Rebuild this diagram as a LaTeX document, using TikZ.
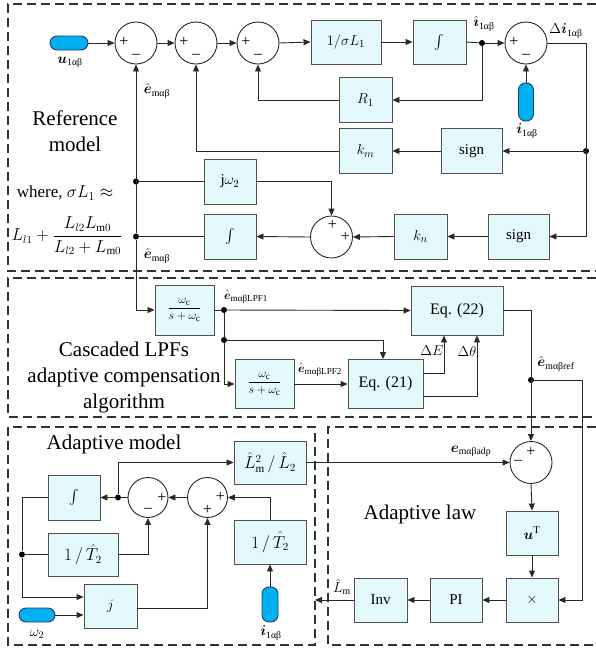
\documentclass[tikz,border=0pt]{standalone}
\usepackage{amsmath}
\usepackage{fontspec}
\setmainfont{Liberation Serif}
\usetikzlibrary{arrows.meta,calc}
\definecolor{boxf}{RGB}{228,249,251}
\definecolor{boxc}{RGB}{80,80,80}
\definecolor{linec}{RGB}{40,40,40}
\definecolor{pillf}{RGB}{0,176,240}
\definecolor{pillb}{RGB}{31,60,110}
\definecolor{dashc}{RGB}{50,50,50}
\tikzset{
 blk/.style={draw=boxc, fill=boxf, line width=0.9pt, inner sep=0pt, font=\fontsize{15}{17}\selectfont},
 sumc/.style={circle, draw=linec, line width=0.9pt, minimum size=42pt, inner sep=0pt},
 sums/.style={sumc, minimum size=40pt},
 pillh/.style={draw=pillb, fill=pillf, line width=0.9pt, rounded corners=7pt, minimum width=38pt, minimum height=14pt, inner sep=0pt},
 pillv/.style={draw=pillb, fill=pillf, line width=0.9pt, rounded corners=7pt, minimum width=15pt, minimum height=38pt, inner sep=0pt},
 conn/.style={draw=linec, line width=0.9pt},
 arr/.style={conn, -{Triangle[length=7pt,width=6pt]}},
 jdot/.style={circle, fill=black, inner sep=0pt, minimum size=6pt},
 region/.style={draw=dashc, line width=1.4pt, dash pattern=on 9pt off 5pt},
 big/.style={font=\fontsize{21}{26}\selectfont, align=center, inner sep=0pt},
 lbl/.style={font=\fontsize{14}{16}\selectfont, inner sep=1pt},
 sgn/.style={font=\fontsize{16}{16}\selectfont, inner sep=0pt}
}
\begin{document}
\begin{tikzpicture}[x=1pt,y=-1pt]
\useasboundingbox (0,0) rectangle (596,654);
% regions
\draw[region] (596,4) -- (8,4) -- (8,271) -- (596,271);
\draw[region] (596,278) -- (8,278) -- (8,417) -- (596,417);
\draw[region] (8,427) rectangle (315,645);
\draw[region] (596,427) -- (328,427) -- (328,645) -- (596,645);

% ---------------- Reference model ----------------
\node[pillh] (u1) at (69,43) {};
\node[lbl] (u1l) at (70,62) {$\boldsymbol{u}$\textsubscript{1αβ}};
\node[sumc] (s1) at (136,43) {};
\node[sumc] (s2) at (196,43) {};
\node[sumc] (s3) at (258,43) {};
\node[blk, minimum width=70pt, minimum height=44pt] (bL1) at (346,42) {$1/\sigma L_1$};
\node[blk, minimum width=53pt, minimum height=44pt] (bint1) at (439.5,42) {$\int$};
\node[jdot] (j1) at (482,43) {};
\node[lbl] (ihl) at (484,24) {$\hat{\boldsymbol{\imath}}$\textsubscript{1αβ}};
\node[sumc] (s4) at (526,43) {};
\node[lbl] (dil) at (566,31) {$\Delta\boldsymbol{i}$\textsubscript{1αβ}};
\node[pillv] (i1) at (526,102) {};
\node[lbl] (i1l) at (527,131) {$\boldsymbol{i}$\textsubscript{1αβ}};
\node[blk, minimum width=53pt, minimum height=45pt] (R1) at (365.5,100) {$R_1$};
\node[blk, minimum width=53pt, minimum height=45pt] (km) at (365.5,151) {$k_m$};
\node[blk, minimum width=61pt, minimum height=45pt] (sg1) at (471.5,151) {sign};
\coordinate (dR) at (586,151);
\node[jdot] at (dR) {};
\node[blk, minimum width=52pt, minimum height=45pt] (jw) at (230,181.5) {j$\omega_2$};
\node[sumc] (s5) at (331.5,237) {};
\node[blk, minimum width=52pt, minimum height=45pt] (bint2) at (230,236.5) {$\int$};
\node[blk, minimum width=53pt, minimum height=45pt] (kn) at (420.5,236.5) {$k_n$};
\node[blk, minimum width=61pt, minimum height=45pt] (sg2) at (518.5,236.5) {sign};
\node[jdot] (d1) at (136,181.5) {};
\node[jdot] (d2) at (136,236.5) {};
\node[lbl] (el1) at (157,91) {$\hat{\boldsymbol{e}}$\textsubscript{mαβ}};
\node[lbl] (el2) at (157,256) {$\hat{\boldsymbol{e}}$\textsubscript{mαβ}};
\node[big] (refl) at (75,131) {Reference\\model};
\node[inner sep=0pt, font=\fontsize{17}{19}\selectfont] (wh) at (65,193) {where, $\sigma L_1\approx$};
\node[inner sep=0pt, font=\fontsize{16}{18}\selectfont] (frl) at (67,236) {$L_{l1}+\dfrac{L_{l2}L_{\mathrm{m}0}}{L_{l2}+L_{\mathrm{m}0}}$};
% signs
\node[sgn] at ($(s1)+(-12,-1)$) {+};
\node[sgn] at ($(s1)+(0,13)$) {\textendash};
\node[sgn] at ($(s2)+(-12,-1)$) {+};
\node[sgn] at ($(s2)+(0,13)$) {\textendash};
\node[sgn] at ($(s3)+(-12,-1)$) {+};
\node[sgn] at ($(s3)+(0,13)$) {\textendash};
\node[sgn] at ($(s4)+(-12,-1)$) {+};
\node[sgn] at ($(s4)+(0,13)$) {\textendash};
\node[sgn] at ($(s5)+(1,-12)$) {+};
\node[sgn] at ($(s5)+(14,0)$) {+};
% connectors
\draw[arr] (u1.east) -- (s1.west);
\draw[arr] (s1.east) -- (s2.west);
\draw[arr] (s2.east) -- (s3.west);
\draw[arr] (s3.east) -- (bL1.west);
\draw[arr] (bL1.east) -- (bint1.west);
\draw[conn] (bint1.east) -- (j1);
\draw[arr] (j1) -- (s4.west);
\draw[arr] (j1) |- (R1.east);
\draw[arr] (R1.west) -| (s3.south);
\draw[arr] (km.west) -| (s2.south);
\draw[arr] (i1.north) -- (s4.south);
\draw[conn] (s4.east) -| (dR);
\draw[arr] (dR) -- (sg1.east);
\draw[arr] (sg1.west) -- (km.east);
\draw[arr] (dR) |- (sg2.east);
\draw[arr] (sg2.west) -- (kn.east);
\draw[arr] (kn.west) -- (s5.east);
\draw[arr] (s5.west) -- (bint2.east);
\draw[conn] (bint2.west) -- (d2);
\draw[arr] (d2) -- (s1.south);
\draw[conn] (d1) -- (jw.west);
\draw[arr] (jw.east) -| (s5.north);

% ---------------- Cascaded LPFs ----------------
\node[blk, minimum width=59pt, minimum height=50pt, font=\fontsize{13}{15}\selectfont] (lpf1) at (184.5,310) {$\displaystyle\frac{\omega_{\mathrm{c}}}{s+\omega_{\mathrm{c}}}$};
\node[blk, minimum width=59pt, minimum height=49pt, font=\fontsize{13}{15}\selectfont] (lpf2) at (264.5,384) {$\displaystyle\frac{\omega_{\mathrm{c}}}{s+\omega_{\mathrm{c}}}$};
\node[blk, minimum width=92pt, minimum height=49pt, font=\fontsize{16}{18}\selectfont] (eq22) at (457,310.5) {Eq. (22)};
\node[blk, minimum width=75pt, minimum height=49pt, font=\fontsize{16}{18}\selectfont] (eq21) at (385.5,384) {Eq. (21)};
\node[jdot] (p1) at (224,310) {};
\node[jdot] (p2) at (224,340) {};
\coordinate (p3) at (531,380);
\node[jdot] at (p3) {};
\coordinate (cR) at (582,380);
\node[lbl, font=\fontsize{13}{15}\selectfont] (lp1l) at (246,297) {$\hat{\boldsymbol{e}}$\textsubscript{mαβLPF1}};
\node[lbl, font=\fontsize{13}{15}\selectfont] (lp2l) at (320,370) {$\hat{\boldsymbol{e}}$\textsubscript{mαβLPF2}};
\node[lbl, font=\fontsize{15}{17}\selectfont] (dEl) at (432,351) {$\Delta E$};
\node[lbl, font=\fontsize{15}{17}\selectfont] (dTl) at (467,351) {$\Delta\theta$};
\node[lbl] (refl2) at (556,364) {$\hat{\boldsymbol{e}}$\textsubscript{mαβref}};
\node[big] (lpfl) at (124,377) {Cascaded LPFs\\adaptive compensation\\algorithm};
\draw[arr] (d2) |- (lpf1.west);
\draw[conn] (lpf1.east) -- (p1);
\draw[arr] (p1) -- (eq22.west);
\draw[conn] (p1) -- (p2);
\draw[arr] (p2) -| ([xshift=-2.5pt]eq21.north);
\draw[arr] (p2) |- (lpf2.west);
\draw[arr] (lpf2.east) -- (eq21.west);
\draw[arr] ([yshift=11pt]eq21.east) -| ([xshift=-13pt]eq22.south);
\draw[arr] ([yshift=-12pt]eq21.east) -| ([xshift=20pt]eq22.south);
\draw[conn] (eq22.east) -| (p3);

% ---------------- Adaptive law ----------------
\node[sumc] (s6) at (531,462.5) {};
\node[blk, minimum width=52pt, minimum height=44pt] (uT) at (532,533) {$\boldsymbol{u}^{\mathrm{T}}$};
\node[blk, minimum width=52pt, minimum height=44pt] (mul) at (532,600) {$\times$};
\node[blk, minimum width=52pt, minimum height=44pt] (PI) at (456,600) {PI};
\node[blk, minimum width=53pt, minimum height=44pt] (Inv) at (380.5,600) {Inv};
\coordinate (Lout) at (315,600);
\node[lbl] (Lml) at (342,587) {$\hat{L}$\textsubscript{m}};
\node[big] (all) at (420,514) {Adaptive law};
\node[sgn] at ($(s6)+(0,-11)$) {+};
\node[sgn] at ($(s6)+(-13,0)$) {\textendash};
\draw[arr] (p3) -- (s6.north);
\draw[conn] (p3) -- (cR);
\draw[arr] (cR) |- (mul.east);
\draw[arr] (s6.south) -- (uT.north);
\draw[arr] (uT.south) -- (mul.north);
\draw[arr] (mul.west) -- (PI.east);
\draw[arr] (PI.west) -- (Inv.east);
\draw[arr] (Inv.west) -- (Lout);

% ---------------- Adaptive model ----------------
\node[big] (aml) at (114,444) {Adaptive model};
\node[blk, minimum width=72pt, minimum height=43pt, font=\fontsize{16}{18}\selectfont] (Lm2) at (270,462.5) {$\hat{L}_{\mathrm{m}}^{2}\,/\,\hat{L}_{2}$};
\node[lbl] (adpl) at (471,451) {$\boldsymbol{e}$\textsubscript{mαβadp}};
\node[blk, minimum width=52pt, minimum height=45pt] (int3) at (74,497.5) {$\int$};
\node[sums] (s7) at (148,497.5) {};
\node[sums] (s8) at (207.5,497.5) {};
\node[blk, minimum width=72pt, minimum height=44pt, font=\fontsize{16}{18}\selectfont] (T2r) at (270,542) {$1\,/\,\hat{T}_2$};
\node[blk, minimum width=70pt, minimum height=43pt, font=\fontsize{16}{18}\selectfont] (T2l) at (83,554.5) {$1\,/\,\hat{T}_2$};
\node[blk, minimum width=53pt, minimum height=44pt] (jb) at (110.5,606) {$j$};
\node[pillv, minimum width=16pt, minimum height=35pt] (i1b) at (270,604.5) {};
\node[lbl] (i1bl) at (271,633) {$\boldsymbol{i}$\textsubscript{1αβ}};
\node[pillh, minimum width=36pt] (w2) at (37,615) {};
\node[lbl] (w2l) at (37,634) {$\omega_2$};
\node[jdot] (q1) at (118,497.5) {};
\node[jdot] (q2) at (22,554.5) {};
\node[sgn] at ($(s7)+(14,0)$) {+};
\node[sgn] at ($(s7)+(0,13)$) {\textendash};
\node[sgn] at ($(s8)+(13,-1)$) {+};
\node[sgn] at ($(s8)+(0,12)$) {+};
\draw[arr] (Lm2.east) -- (s6.west);
\draw[arr] (s8.west) -- (s7.east);
\draw[conn] (s7.west) -- (q1);
\draw[arr] (q1) -- (int3.east);
\draw[arr] (q1) |- (Lm2.west);
\draw[arr] (T2r.north) |- (s8.east);
\draw[arr] (i1b.north) -- (T2r.south);
\draw[conn] (int3.west) -| (q2);
\draw[conn] (q2) -- (T2l.west);
\draw[arr] (T2l.east) -| (s7.south);
\draw[arr] (q2) |- ([yshift=9pt]jb.west);
\draw[arr] (w2.east) -- ([yshift=-9pt]jb.west);
\draw[arr] ([yshift=-2pt]jb.east) -| (s8.south);
\end{tikzpicture}
\end{document}
